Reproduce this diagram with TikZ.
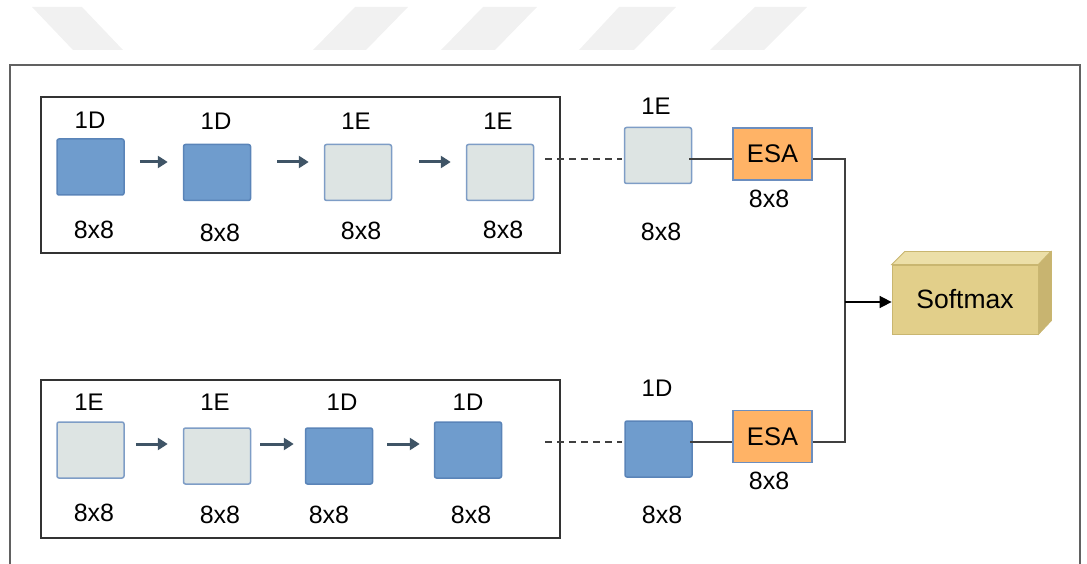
\documentclass[tikz,border=0pt]{standalone}
\usepackage{fontspec}
\setmainfont{Liberation Sans}
\usetikzlibrary{arrows.meta,calc}
\definecolor{darkblk}{HTML}{6F9CCD}
\definecolor{darkbrd}{HTML}{5A84B8}
\definecolor{lightblk}{HTML}{DDE4E3}
\definecolor{lightbrd}{HTML}{7E9DC6}
\definecolor{esafill}{HTML}{FFB366}
\definecolor{esabrd}{HTML}{6C8EBF}
\definecolor{arrowc}{HTML}{3F5466}
\definecolor{wmark}{HTML}{F1F1F1}
\definecolor{smfront}{HTML}{E2CF8A}
\definecolor{smtop}{HTML}{ECDFA8}
\definecolor{smside}{HTML}{C8B470}
\definecolor{smbrd}{HTML}{C9B670}
\tikzset{
  blk/.style={rounded corners=2pt, line width=1.5pt, minimum width=67pt, minimum height=56pt, inner sep=0pt},
  dblk/.style={blk, fill=darkblk, draw=darkbrd},
  lblk/.style={blk, fill=lightblk, draw=lightbrd},
  esabox/.style={fill=esafill, draw=esabrd, line width=1.5pt, minimum width=79pt, minimum height=52pt, inner sep=0pt, font=\fontsize{25.5}{30}\selectfont},
  lbl/.style={font=\fontsize{24}{28}\selectfont, inner sep=0pt},
  size/.style={font=\fontsize{25}{29}\selectfont, inner sep=0pt},
  flow/.style={draw=arrowc, line width=3pt, -{Triangle[length=10pt,width=12pt]}},
  dots/.style={draw=black!75, line width=1.5pt, dash pattern=on 7pt off 5pt},
  wire/.style={draw=black!75, line width=1.6pt},
  group/.style={draw=black!80, line width=2pt},
}
\begin{document}
\begin{tikzpicture}[x=1pt,y=-1pt]
\useasboundingbox (0,0) rectangle (1087,564);

% faint band of slanted bars along the top
\fill[wmark] (32,7) -- (82,7) -- (123,50) -- (73,50) -- cycle;
\fill[wmark] (355,7) -- (408,7) -- (366,50) -- (313,50) -- cycle;
\fill[wmark] (483,7) -- (537,7) -- (495,50) -- (441,50) -- cycle;
\fill[wmark] (619,7) -- (676,7) -- (634,50) -- (579,50) -- cycle;
\fill[wmark] (755,7) -- (807,7) -- (764,50) -- (710,50) -- cycle;

% outer frame
\draw[draw=black!62, line width=2.5pt] (10,570) -- (10,65) -- (1080,65) -- (1080,570);

% group frames
\draw[group] (41,97) rectangle (560,253);
\draw[group] (41,380) rectangle (560,538);

% ---------- upper branch ----------
\coordinate (ra) at (0,162);
\coordinate (rb) at (0,159);
\node[dblk] (a1) at (90.5,167) {};
\node[dblk] (a2) at (217,172.5) {};
\node[lblk] (a3) at (358,172.5) {};
\node[lblk] (a4) at (500,172.5) {};
\node[lblk] (a5) at (658,155.5) {};
\node[esabox] (e1) at (772.5,154) {ESA};

\node[lbl] at (90,120) {1D};
\node[lbl] at (216,121) {1D};
\node[lbl] at (356,121) {1E};
\node[lbl] at (498,121) {1E};
\node[lbl] at (656,106) {1E};
\node[size] at (94,230) {8x8};
\node[size] at (220,233) {8x8};
\node[size] at (361,231) {8x8};
\node[size] at (503,230) {8x8};
\node[size] at (661,232) {8x8};
\node[size] at (769,199) {8x8};

\draw[flow, shorten <=15pt, shorten >=15pt] (a1.east |- ra) -- (a2.west |- ra);
\draw[flow, shorten <=26pt, shorten >=15pt] (a2.east |- ra) -- (a3.west |- ra);
\draw[flow, shorten <=27pt, shorten >=15pt] (a3.east |- ra) -- (a4.west |- ra);
\draw[dots, shorten <=11pt, shorten >=2pt] (a4.east |- rb) -- (a5.west |- rb);
\draw[wire] ([xshift=-3pt]a5.east |- rb) -- (e1.west |- rb);

% ---------- lower branch ----------
\coordinate (rc) at (0,444);
\coordinate (rd) at (0,442);
\node[lblk] (b1) at (90.5,450) {};
\node[lblk] (b2) at (217,456) {};
\node[dblk] (b3) at (339,456) {};
\node[dblk] (b4) at (468,450) {};
\node[dblk] (b5) at (658.5,449) {};
\node[esabox] (e2) at (772.5,436.5) {ESA};

\node[lbl] at (89,402) {1E};
\node[lbl] at (215,402) {1E};
\node[lbl] at (342,402) {1D};
\node[lbl] at (468,402) {1D};
\node[lbl] at (657,388) {1D};
\node[size] at (94,513) {8x8};
\node[size] at (220,515) {8x8};
\node[size] at (329,515) {8x8};
\node[size] at (471,515) {8x8};
\node[size] at (662,515) {8x8};
\node[size] at (769,481) {8x8};

\draw[flow, shorten <=11pt, shorten >=15pt] (b1.east |- rc) -- (b2.west |- rc);
\draw[flow, shorten <=9pt, shorten >=11pt] (b2.east |- rc) -- (b3.west |- rc);
\draw[flow, shorten <=14pt, shorten >=14pt] (b3.east |- rc) -- (b4.west |- rc);
\coordinate (d0) at (545,442);
\draw[dots, shorten >=2pt] (d0) -- (b5.west |- rd);
\draw[wire] ([xshift=-3pt]b5.east |- rd) -- (e2.west |- rd);

% ---------- softmax block ----------
\node[fill=smfront, draw=smbrd, line width=0.8pt, minimum width=146pt, minimum height=69pt, inner sep=0pt,
      font=\fontsize{26.5}{31}\selectfont] (sm) at (965,299.5) {Softmax};
\fill[smtop, draw=smbrd, line width=0.8pt] (sm.north west) -- ++(13,-13) -- ++(146,0) -- (sm.north east) -- cycle;
\fill[smside, draw=smbrd, line width=0.8pt] (sm.north east) -- ++(13,-13) -- ++(0,69) -- (sm.south east) -- cycle;

% merge into softmax
\coordinate (j) at (845,302);
\draw[wire] (e1.east |- rb) -| (j);
\draw[wire] (e2.east |- rd) -| (j);
\draw[draw=black, line width=1.6pt, -{Triangle[length=12pt,width=12pt]}] (j) -- (sm.west |- j);
\end{tikzpicture}
\end{document}
